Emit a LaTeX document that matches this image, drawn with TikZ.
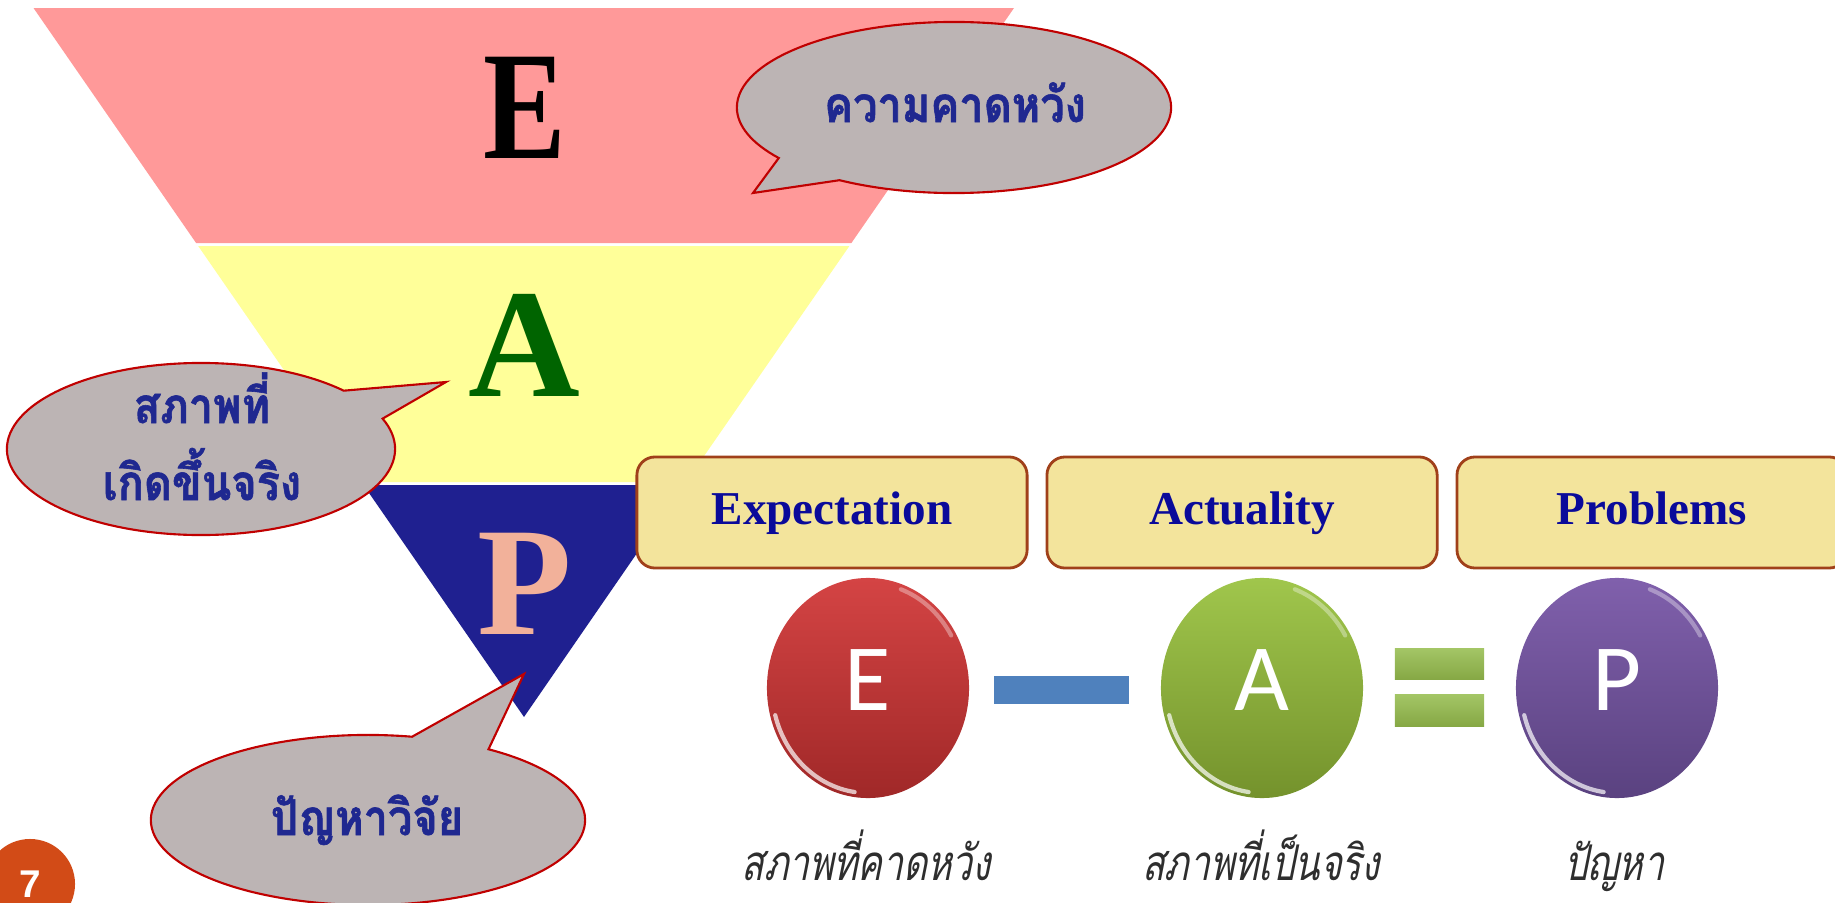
\documentclass[tikz,border=0pt]{standalone}
\usepackage{fontspec}
\usepackage{tikz}
\usetikzlibrary{shapes.geometric}
\usetikzlibrary{shapes.callouts}
\usetikzlibrary{positioning}

\setmainfont{Liberation Serif}
\newfontfamily\thaifont[Script=Thai, FakeStretch=0.88, FakeBold=1.2]{Loma}
\newfontfamily\thaiitfont[Script=Thai, FakeSlant=0.2, FakeStretch=0.75]{Loma}
\newfontfamily\ballfont{Carlito}
\newfontfamily\numfont{Liberation Sans}

\definecolor{funnelred}{HTML}{FF9999}
\definecolor{funnelyellow}{HTML}{FFFF99}
\definecolor{funnelblue}{HTML}{1F2090}
\definecolor{agreen}{HTML}{006400}
\definecolor{psalmon}{HTML}{F2B19A}
\definecolor{bubblefill}{HTML}{BCB4B4}
\definecolor{bubbleline}{HTML}{C00000}
\definecolor{thaiblue}{HTML}{1F2890}
\definecolor{boxfill}{HTML}{F3E49C}
\definecolor{boxline}{HTML}{A0401A}
\definecolor{boxtext}{HTML}{0A0A9A}
\definecolor{redtop}{HTML}{D44444}
\definecolor{redbot}{HTML}{A02828}
\definecolor{greentop}{HTML}{A0C64C}
\definecolor{greenbot}{HTML}{74922C}
\definecolor{purpletop}{HTML}{8060AC}
\definecolor{purplebot}{HTML}{5A4280}
\definecolor{minusblue}{HTML}{4F81BD}
\definecolor{eqtop}{HTML}{A3C565}
\definecolor{eqbot}{HTML}{86A845}
\definecolor{labelgray}{HTML}{2E2E2E}
\definecolor{pageorange}{HTML}{D24B17}

\begin{document}
\begin{tikzpicture}[x=0.01cm, y=-0.01cm,
	funnelletter/.style={font=\bfseries\fontsize{44}{48}\selectfont, inner sep=0pt},
	bubble/.style={ellipse callout, draw=bubbleline, line width=0.6pt, fill=bubblefill, inner sep=0pt, callout pointer arc=22},
	bubbletext/.style={anchor=base, inner sep=0pt, text=thaiblue, font=\thaifont\bfseries\fontsize{14}{18}\selectfont},
	capbox/.style={draw=boxline, line width=0.8pt, fill=boxfill, rounded corners=0.18cm, minimum width=3.9cm, minimum height=1.11cm, text=boxtext, font=\bfseries\fontsize{13.4}{16}\selectfont, text height=0.31cm, text depth=0.08cm},
	symball/.style={ellipse, minimum width=2.02cm, minimum height=2.2cm, inner sep=0pt, text=white, font=\ballfont\fontsize{27}{30}\selectfont, text height=0.62cm, text depth=0.18cm},
	gloss/.style={white, line width=1.2pt, opacity=0.7, line cap=round},
	opbar/.style={inner sep=0pt},
	ballword/.style={anchor=base, inner sep=0pt, text=labelgray, font=\thaiitfont\fontsize{14}{18}\selectfont},
	pagebadge/.style={circle, fill=pageorange, minimum size=0.9cm, inner sep=0pt, text=white, font=\numfont\bfseries\fontsize{11}{13}\selectfont}]
	%\draw[help lines] (0,0) grid[step=100] (1835,903);
	\useasboundingbox (0,0) rectangle (1835,903);
	\clip (0,0) rectangle (1835,903);
	
	% funnel E / A / P
	\fill[funnelred] (33.5,8) -- (1014,8) -- (851.4,243) -- (196.1,243) -- cycle;
	\fill[funnelyellow] (198.2,246) -- (849.4,246) -- (686.1,482) -- (361.4,482) -- cycle;
	\fill[funnelblue] (363.5,485) -- (684,485) -- (524,717) -- cycle;
	\node[funnelletter] (lettE) at (524.5,108) {\scalebox{0.8}[1]{E}};
	\node[funnelletter, text=agreen] (lettA) at (524,345) {A};
	\node[funnelletter, text=psalmon] (lettP) at (525,584) {P};
	
	% speech bubbles
	\node[bubble, minimum width=4.34cm, minimum height=1.71cm, callout absolute pointer={(753,193)}] (expbubble) at (954,107.5) {};
	\node[bubble, minimum width=3.88cm, minimum height=1.72cm, callout absolute pointer={(446,382)}] (actbubble) at (201,449) {};
	\node[bubble, minimum width=4.34cm, minimum height=1.70cm, callout absolute pointer={(524,674)}] (probbubble) at (368,820) {};
	\node[bubbletext] (expthai) at (955,122) {ความคาดหวัง};
	\node[bubbletext] (actthai1) at (202,423) {สภาพที่};
	\node[bubbletext] (actthai2) at (202,500) {เกิดขึ้นจริง};
	\node[bubbletext] (probthai) at (367,835) {ปัญหาวิจัย};
	
	% E - A = P
	\node[capbox] (expbox) at (832,512.5) {Expectation};
	\node[capbox, right=0.17cm of expbox] (actbox) {Actuality};
	\node[capbox, right=0.17cm of actbox] (probbox) {Problems};
	
	\node[symball, top color=redtop, bottom color=redbot] (ballE) at (868,688) {E};
	\node[symball, top color=greentop, bottom color=greenbot] (ballA) at (1262,688) {A};
	\node[symball, top color=purpletop, bottom color=purplebot] (ballP) at (1617,688) {P};
	\foreach \bname in {ballE, ballA, ballP} {
		\draw[gloss] ([shift={(195:0.96cm and 1.05cm)}]\bname.center) arc[start angle=195, end angle=262, x radius=0.96cm, y radius=1.05cm];
		\draw[gloss, opacity=0.35] ([shift={(30:0.96cm and 1.05cm)}]\bname.center) arc[start angle=30, end angle=70, x radius=0.96cm, y radius=1.05cm];
	}
	
	\node[opbar, fill=minusblue, minimum width=1.35cm, minimum height=0.28cm] (minus) at (1061.5,690) {};
	\node[opbar, top color=eqtop, bottom color=eqbot, minimum width=0.89cm, minimum height=0.30cm] (equpper) at (1439.5,664) {};
	\node[opbar, top color=eqtop, bottom color=eqbot, minimum width=0.89cm, minimum height=0.31cm] (eqlower) at (1439.5,710.5) {};
	
	\node[ballword] (expword) at (866,880) {สภาพที่คาดหวัง};
	\node[ballword] (actword) at (1261,880) {สภาพที่เป็นจริง};
	\node[ballword] (probword) at (1614,880) {ปัญหา};
	
	\node[pagebadge] (pagenum) at (30,884) {7};
\end{tikzpicture}
\end{document}
